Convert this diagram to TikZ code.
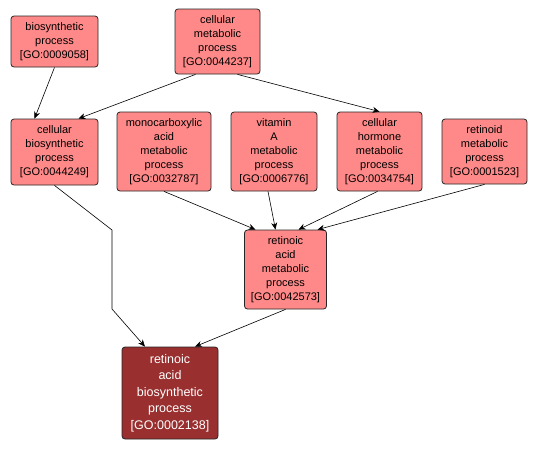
\documentclass[tikz,border=0pt]{standalone}
\usepackage{fontspec}
\setmainfont{Liberation Sans}
\usepackage{xcolor}
\usetikzlibrary{arrows.meta,positioning}
\definecolor{gopink}{RGB}{255,137,137}
\definecolor{godark}{RGB}{153,47,47}

\begin{document}
\begin{tikzpicture}[
      x=1pt, y=-1pt,
      font=\fontsize{11}{14}\selectfont,
      term/.style={draw=black!85, fill=gopink, rounded corners=3pt, line width=0.8pt,
                   inner sep=0pt, align=center, text=black},
      focus/.style={term, fill=godark, text=white, font=\fontsize{12.5}{16.6}\selectfont},
      arrow/.style={-{Stealth[length=7pt,width=6pt]}, black, line width=0.6pt}
    ]
    \useasboundingbox (0,0) rectangle (540,448);
    % top row
    \node[term, minimum width=87pt, minimum height=51pt] (bp) at (54.5,41.5)
      {biosynthetic\\process\\{[GO:0009058]}};
    \node[term, minimum width=85pt, minimum height=65pt] (cmp) at (217.5,41.5)
      {cellular\\metabolic\\process\\{[GO:0044237]}};
    % middle row
    \node[term, minimum width=87pt, minimum height=66pt] (cbp) at (54.5,152)
      {cellular\\biosynthetic\\process\\{[GO:0044249]}};
    \node[term, minimum width=94pt, minimum height=79pt] (mcap) at (164,151.5)
      {monocarboxylic\\acid\\metabolic\\process\\{[GO:0032787]}};
    \node[term, minimum width=86pt, minimum height=79pt] (vap) at (274,151.5)
      {vitamin\\A\\metabolic\\process\\{[GO:0006776]}};
    \node[term, minimum width=85pt, minimum height=79pt] (chmp) at (379.5,151.5)
      {cellular\\hormone\\metabolic\\process\\{[GO:0034754]}};
    \node[term, minimum width=85pt, minimum height=65pt] (rmp) at (484.5,151.5)
      {retinoid\\metabolic\\process\\{[GO:0001523]}};
    % lower rows
    \node[term, minimum width=82pt, minimum height=79pt] (ramp) at (285.5,269.5)
      {retinoic\\acid\\metabolic\\process\\{[GO:0042573]}};
    \node[focus, minimum width=96pt, minimum height=92pt] (rabp) at (170,393)
      {retinoic\\acid\\biosynthetic\\process\\{[GO:0002138]}};
    % edges
    \draw[arrow] (bp.south) -- ([xshift=-20pt]cbp.north);
    \draw[arrow] ([xshift=-22pt]cmp.south) -- ([xshift=24pt]cbp.north);
    \draw[arrow] ([xshift=20pt]cmp.south) -- (chmp.north);
    \draw[arrow] (cbp.south) -- (112,230) -- (112,309) -- ([xshift=-25pt]rabp.north);
    \draw[arrow] (mcap.south) -- ([xshift=-30pt]ramp.north);
    \draw[arrow] ([xshift=-6pt]vap.south) -- ([xshift=-10pt]ramp.north);
    \draw[arrow] ([xshift=-2pt]chmp.south) -- ([xshift=13pt]ramp.north);
    \draw[arrow] (rmp.south) -- ([xshift=32pt]ramp.north);
    \draw[arrow] (ramp.south) -- ([xshift=25pt]rabp.north);
  \end{tikzpicture}
\end{document}
